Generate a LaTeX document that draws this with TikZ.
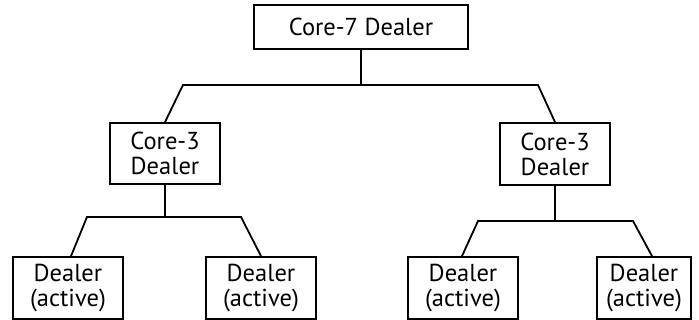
\documentclass[tikz,border=0pt]{standalone}
\usepackage{fontspec}
\setmainfont{PT Sans}
\begin{document}
\begin{tikzpicture}[x=1pt,y=-1pt,
  box/.style={draw,line width=1.8pt,inner sep=0pt,align=center,
    font=\fontsize{24.5}{25}\selectfont},
  conn/.style={line width=1.8pt}]
\useasboundingbox (0,0) rectangle (699,320);
\node[box,minimum width=214pt,minimum height=44pt] (top) at (361,27) {Core-7 Dealer};
\node[box,minimum width=110pt,minimum height=61pt] (lc) at (165,153.5) {Core-3\\Dealer};
\node[box,minimum width=110pt,minimum height=62pt] (rc) at (555,154) {Core-3\\Dealer};
\node[box,minimum width=110pt,minimum height=62pt] (ll) at (68,288) {Dealer\\(active)};
\node[box,minimum width=110pt,minimum height=62pt] (lr) at (261,288) {Dealer\\(active)};
\node[box,minimum width=110pt,minimum height=62pt] (rl) at (463,288) {Dealer\\(active)};
\node[box,minimum width=94pt,minimum height=62pt] (rr) at (644,288) {Dealer\\(active)};
\coordinate (tj) at (361,85);
\coordinate (ta) at (183,85);
\coordinate (tb) at (538,85);
\coordinate (lj) at (165,217);
\coordinate (la) at (87,217);
\coordinate (lb) at (241,217);
\coordinate (rj) at (555,221);
\coordinate (ra) at (478,221);
\coordinate (rb) at (633,221);
\draw[conn] (top.south) -- (tj);
\draw[conn] (lc.north) -- (ta) -- (tb) -- (rc.north);
\draw[conn] (lc.south) -- (lj);
\draw[conn] ([xshift=3pt]ll.north) -- (la) -- (lb) -- (lr.north);
\draw[conn] (rc.south) -- (rj);
\draw[conn] ([xshift=-1pt]rl.north) -- (ra) -- (rb) -- ([xshift=8pt]rr.north);
\end{tikzpicture}
\end{document}
